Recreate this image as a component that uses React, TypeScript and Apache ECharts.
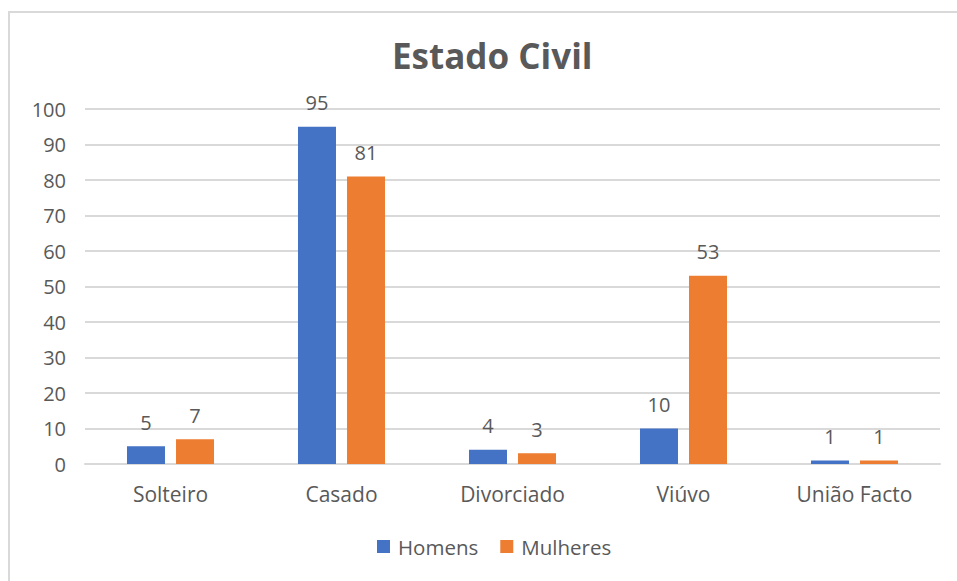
import React, { useEffect, useRef } from "react";
import * as echarts from "echarts";

const categories = ["Solteiro", "Casado", "Divorciado", "Viúvo", "União Facto"];
const homens = [5, 95, 4, 10, 1];
const mulheres = [7, 81, 3, 53, 1];
const seriesNames = ["Homens", "Mulheres"];

const FONT = "'Open Sans', 'Noto Sans', sans-serif";
const GRAY = "#595959";

export default function App() {
  const ref = useRef<HTMLDivElement>(null);
  useEffect(() => {
    if (!ref.current) return;
    const chart = echarts.init(ref.current, null, { renderer: "svg" });
    const label = {
      show: true,
      position: "top",
      distance: 14,
      color: GRAY,
      fontSize: 20,
      fontFamily: FONT,
    };
    chart.setOption({
      animation: false,
      backgroundColor: "#ffffff",
      title: {
        text: "Estado Civil",
        left: 387,
        top: 33,
        textStyle: { fontSize: 35, fontWeight: "bold", color: GRAY, fontFamily: FONT },
      },
      graphic: [
        {
          type: "rect",
          shape: { x: 9, y: 12, width: 960, height: 600 },
          style: { fill: "none", stroke: "#d9d9d9", lineWidth: 2 },
          silent: true,
        },
      ],
      legend: {
        bottom: 19,
        left: 372,
        itemWidth: 13,
        itemHeight: 13,
        itemGap: 22,
        icon: "rect",
        textStyle: { fontSize: 20.5, color: GRAY, fontFamily: FONT, padding: [0, 0, 0, 3] },
        data: seriesNames,
      },
      grid: { left: 85, right: 17, top: 109, bottom: 117 },
      xAxis: {
        type: "category",
        data: categories,
        axisLine: { lineStyle: { color: "#d9d9d9", width: 2 } },
        axisTick: { show: false },
        axisLabel: { color: GRAY, fontSize: 21, fontFamily: FONT, margin: 19 },
      },
      yAxis: {
        type: "value",
        min: 0,
        max: 100,
        interval: 10,
        axisLine: { show: false },
        axisTick: { show: false },
        splitLine: { lineStyle: { color: "#d9d9d9", width: 2 } },
        axisLabel: { color: GRAY, fontSize: 20, fontFamily: FONT, margin: 19 },
      },
      series: [
        {
          name: seriesNames[0],
          type: "bar",
          data: homens,
          barWidth: 38,
          barGap: "29%",
          itemStyle: { color: "#4472C4" },
          label,
        },
        {
          name: seriesNames[1],
          type: "bar",
          data: mulheres,
          barWidth: 38,
          barGap: "29%",
          itemStyle: { color: "#ED7D31" },
          label,
        },
      ],
    });
    return () => chart.dispose();
  }, []);
  return <div ref={ref} style={{ width: 957, height: 581, position: "absolute", left: 0, top: 0 }} />;
}
